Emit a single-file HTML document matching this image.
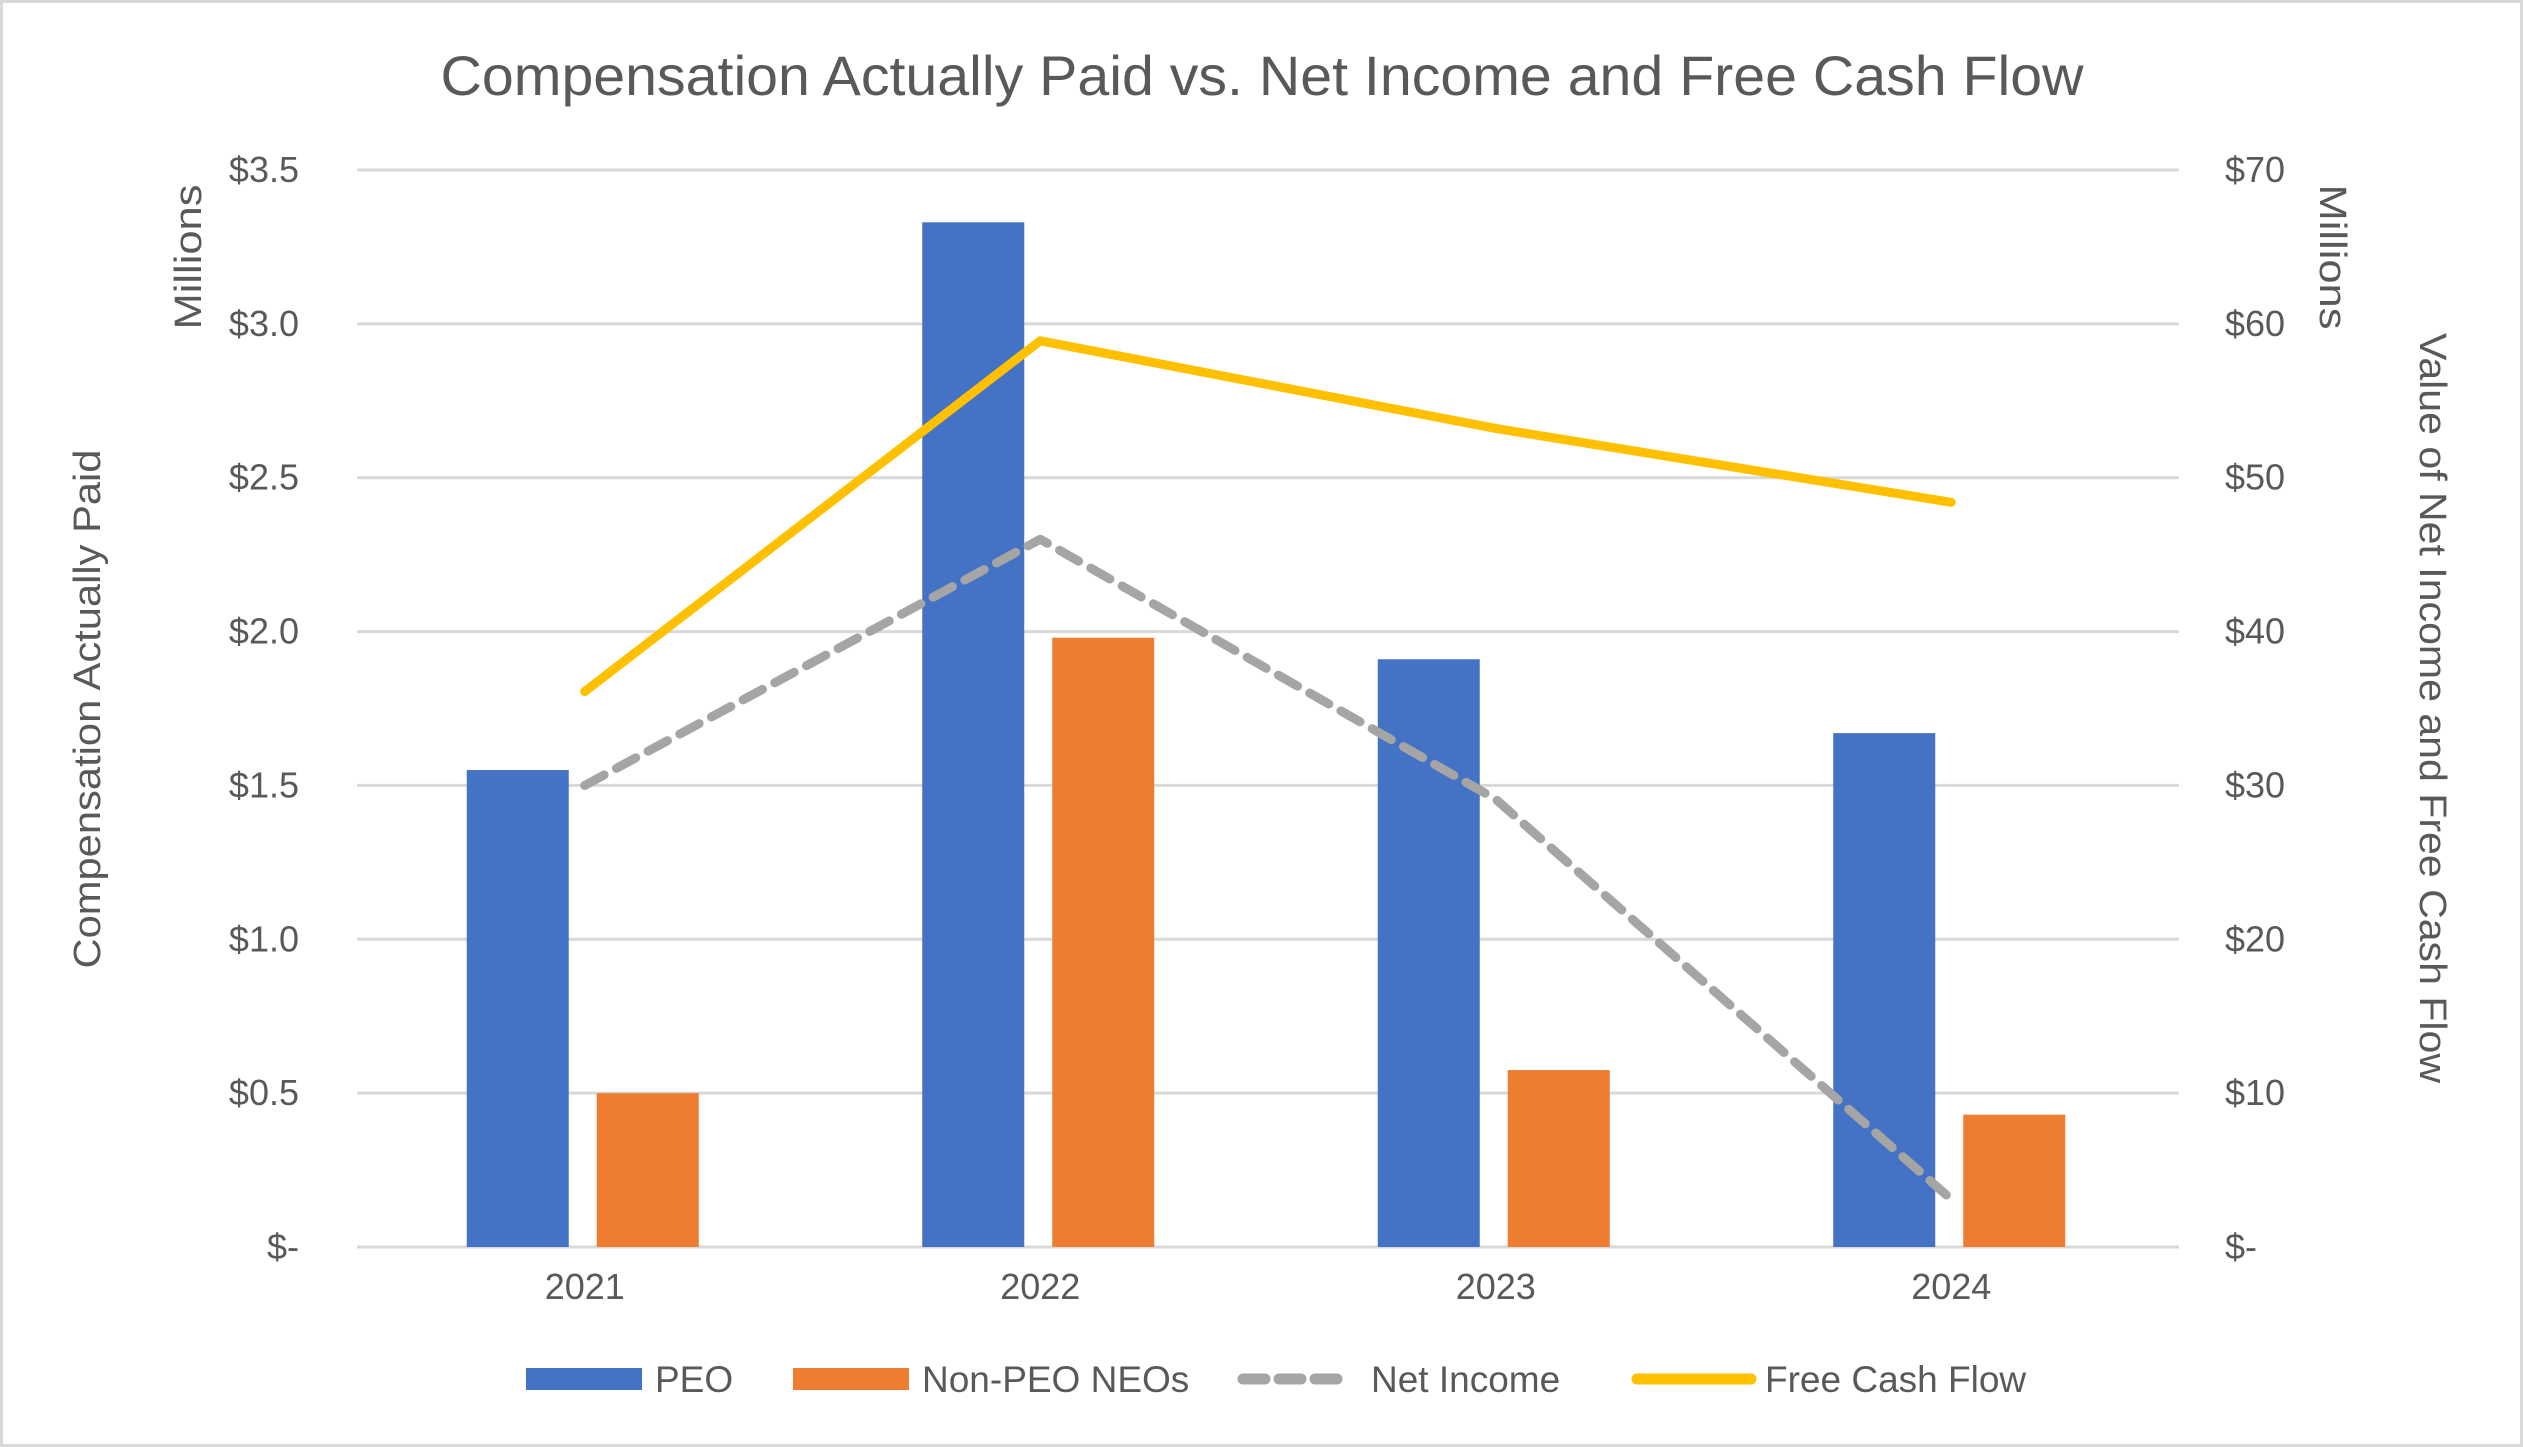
<!DOCTYPE html>
<html><head><meta charset="utf-8"><style>
html,body{margin:0;padding:0;background:#fff;}
svg{display:block;}
text{font-family:"Liberation Sans Narrow","Liberation Sans",sans-serif;fill:#595959;}
.w{font-family:"Liberation Sans",sans-serif;}
</style></head><body>
<svg id="chart" width="2523" height="1447" viewBox="0 0 2523 1447" xmlns="http://www.w3.org/2000/svg">
<rect x="1.5" y="1.5" width="2520" height="1444" fill="#fff" stroke="#d9d9d9" stroke-width="3"/>
<text x="1262" y="95" font-size="56" text-anchor="middle" textLength="1643" lengthAdjust="spacingAndGlyphs">Compensation Actually Paid vs. Net Income and Free Cash Flow</text>
<g id="grid"></g>
<g id="bars"></g>
<g id="lines"></g>
<g id="ticks"></g>
<text class="w" transform="translate(100,709) rotate(-90)" font-size="38" text-anchor="middle" textLength="519" lengthAdjust="spacingAndGlyphs">Compensation Actually Paid</text>
<text class="w" transform="translate(201,257) rotate(-90)" font-size="38" text-anchor="middle" textLength="145" lengthAdjust="spacingAndGlyphs">Millions</text>
<text class="w" transform="translate(2320,257) rotate(90)" font-size="38" text-anchor="middle" textLength="145" lengthAdjust="spacingAndGlyphs">Millions</text>
<text class="w" transform="translate(2420,708) rotate(90)" font-size="38" text-anchor="middle" textLength="750" lengthAdjust="spacingAndGlyphs">Value of Net Income and Free Cash Flow</text>
<g font-size="37">
<g><rect x="526" y="1368" width="116" height="22" fill="#4472C4"/><text x="655" y="1392">PEO</text></g>
<g><rect x="793" y="1368" width="116" height="22" fill="#ED7D31"/><text x="922" y="1392">Non-PEO NEOs</text></g>
<g><line x1="1243" y1="1379" x2="1343" y2="1379" stroke="#A5A5A5" stroke-width="11" stroke-dasharray="22,14" stroke-linecap="round"/><text x="1371" y="1392">Net Income</text></g>
<g><line x1="1637" y1="1379" x2="1751" y2="1379" stroke="#FFC000" stroke-width="11" stroke-linecap="round"/><text x="1765" y="1392">Free Cash Flow</text></g>
</g>
</svg>
<script>
const categories = ['2021','2022','2023','2024'];
const peo = [1.55, 3.33, 1.91, 1.67];
const nonPeo = [0.50, 1.98, 0.575, 0.43];
const netIncome = [30.0, 46.0, 29.1, 3.1];
const freeCashFlow = [36.1, 58.9, 53.2, 48.4];
const leftTicks = ['$-','$0.5','$1.0','$1.5','$2.0','$2.5','$3.0','$3.5'];
const rightTicks = ['$-','$10','$20','$30','$40','$50','$60','$70'];

const NS='http://www.w3.org/2000/svg';
const X0=357, X1=2179, Y0=1247, YT=170;
const yL=v=>Y0-(v/3.5)*(Y0-YT);
const yR=v=>Y0-(v/70)*(Y0-YT);
const band=(X1-X0)/categories.length;
const xC=i=>X0+band*(i+0.5);
function mk(tag,attrs,parent){const e=document.createElementNS(NS,tag);for(const k in attrs)e.setAttribute(k,attrs[k]);parent.appendChild(e);return e;}
const grid=document.getElementById('grid'),bars=document.getElementById('bars'),lines=document.getElementById('lines'),ticks=document.getElementById('ticks');
for(let i=0;i<leftTicks.length;i++){
  const y=yL(i*0.5);
  const g=mk('line',{x1:X0,x2:X1,y1:y,y2:y,stroke:'#d9d9d9','stroke-width':3},grid);
  
  
  const t=mk('text',{x:299,y:y+12,'font-size':36,'text-anchor':'end'},ticks);
  t.textContent=leftTicks[i];
  
  
  const r=mk('text',{x:2225,y:yR(i*10)+12,'font-size':36},ticks);
  r.textContent=rightTicks[i];
  
  
}
categories.forEach((c,i)=>{
  const cx=xC(i);
  const b1=mk('rect',{x:cx-118,y:yL(peo[i]),width:102,height:Y0-yL(peo[i]),fill:'#4472C4'},bars);
  
  
  const b2=mk('rect',{x:cx+12,y:yL(nonPeo[i]),width:102,height:Y0-yL(nonPeo[i]),fill:'#ED7D31'},bars);
  
  
  const t=mk('text',{x:cx,y:1299,'font-size':36,'text-anchor':'middle'},ticks);
  t.textContent=c;
  
  
});
const ni=mk('polyline',{points:netIncome.map((v,i)=>xC(i)+','+yR(v)).join(' '),fill:'none',stroke:'#A5A5A5','stroke-width':9,'stroke-dasharray':'22,14','stroke-linecap':'round','stroke-linejoin':'round'},lines);


const fcf=mk('polyline',{points:freeCashFlow.map((v,i)=>xC(i)+','+yR(v)).join(' '),fill:'none',stroke:'#FFC000','stroke-width':9,'stroke-linecap':'round','stroke-linejoin':'round'},lines);


</script>
</body></html>
